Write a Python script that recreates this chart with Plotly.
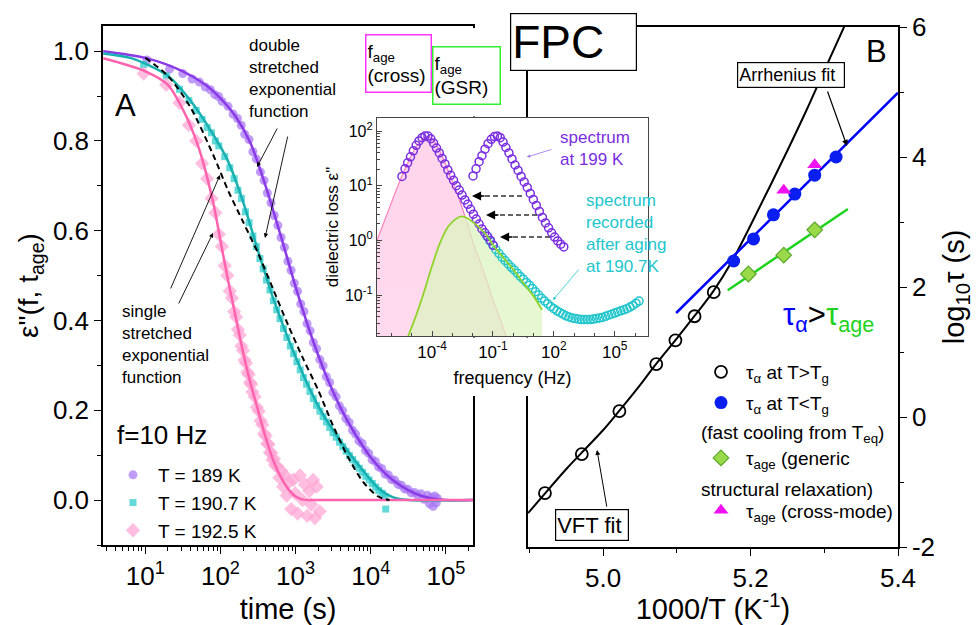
import plotly.graph_objects as go

W, H = 976, 625
FONT = "Liberation Sans, Arial, sans-serif"


def px(x):
    return x / W


def py(y):
    return 1 - y / H


# ---------------- Panel A : normalized loss vs aging time ----------------
t_189 = [10.5, 21, 31.5, 42, 52.5, 63, 73.5, 84, 94.5, 105, 126, 147, 168, 189, 210, 240, 270, 300, 340, 380,
         420, 470, 520, 580, 640, 710, 790, 870, 960, 1060, 1170, 1290, 1420, 1560, 1720, 1900, 2100, 2320, 2560, 2830,
         3130, 3460, 3820, 4220, 4660, 5150, 5690, 6290, 6950, 7680, 8490, 9380, 10400, 11500, 12700, 14000, 15500,
         17100, 18900, 20900, 23100, 25500, 28200, 31200, 34500, 38100, 42100, 46500, 51400, 56800,
         60500, 64000, 67500, 71000, 74500, 77000]
v_189 = [0.980, 0.960, 0.950, 0.938, 0.931, 0.920, 0.914, 0.903, 0.899, 0.888,
         0.877, 0.860, 0.850, 0.835, 0.815, 0.803, 0.776, 0.760, 0.731, 0.712,
         0.684, 0.662, 0.634, 0.612, 0.585, 0.563, 0.532, 0.512, 0.483, 0.465,
         0.437, 0.420, 0.393, 0.377, 0.351, 0.337, 0.313, 0.299, 0.275, 0.262,
         0.240, 0.230, 0.210, 0.199, 0.182, 0.173, 0.156, 0.147, 0.132, 0.126,
         0.111, 0.104, 0.090, 0.086, 0.074, 0.070, 0.058, 0.056, 0.046, 0.044,
         0.035, 0.033, 0.025, 0.024, 0.016, 0.017, 0.010, 0.014, 0.002, 0.011,
         -0.008, 0.006, -0.014, 0.009, -0.006, 0.004]

t_1907 = [9.5, 19, 28.5, 38, 47.5, 57, 66.5, 76, 85.5, 95, 114, 133, 152, 171, 190, 215, 240, 270, 300, 335,
          370, 410, 455, 505, 560, 620, 690, 765, 850, 940, 1040, 1150, 1270, 1400, 1550, 1720, 1900, 2100, 2320, 2570,
          2840, 3140, 3470, 3840, 4250, 4700, 5200, 5750, 6350, 7020, 7760, 8580, 9490, 10500, 11600, 12800, 14200,
          15500, 15800]
v_1907 = [0.970, 0.945, 0.915, 0.890, 0.868, 0.848, 0.830, 0.818, 0.800, 0.789,
          0.765, 0.740, 0.716, 0.690, 0.672, 0.642, 0.618, 0.588, 0.565, 0.538,
          0.515, 0.490, 0.468, 0.444, 0.424, 0.404, 0.382, 0.362, 0.343, 0.326,
          0.308, 0.290, 0.273, 0.258, 0.242, 0.226, 0.211, 0.198, 0.186, 0.174,
          0.162, 0.150, 0.140, 0.129, 0.119, 0.109, 0.099, 0.090, 0.080, 0.071,
          0.062, 0.053, 0.045, 0.037, 0.029, 0.021, 0.015, 0.008, -0.020]

t_1925 = [9.5, 19, 28.5, 38, 47.5, 57, 66.5, 76, 85.5, 95, 104.5, 114, 123.5, 133, 142.5, 152, 161.5, 171, 180.5, 190,
          199.5, 209, 218.5, 228, 237.5, 247, 256.5, 266, 285, 304, 323, 342, 361, 380, 399, 418, 437, 456,
          475, 494, 513, 532, 570, 608, 646, 684, 722, 760, 817, 874, 931, 988, 1064, 1140, 1235, 1330, 1425, 1520,
          1615, 1710, 1805, 1900, 2090]
v_1925 = [0.950, 0.925, 0.885, 0.835, 0.800, 0.750, 0.716, 0.672, 0.640, 0.592,
          0.565, 0.522, 0.500, 0.466, 0.450, 0.420, 0.408, 0.380, 0.368, 0.343,
          0.333, 0.312, 0.305, 0.285, 0.280, 0.262, 0.258, 0.241,
          0.230, 0.207, 0.198, 0.177, 0.168, 0.148, 0.143, 0.126, 0.124, 0.106,
          0.105, 0.090, 0.092, 0.078, 0.075, 0.050, 0.065, 0.030, 0.055, 0.010,
          0.040, -0.020, 0.045, 0.015, -0.030, 0.055, 0.000, 0.035, -0.035, 0.020,
          -0.010, 0.045, -0.040, 0.030, -0.025]

# fitted curves (log10 time, value)
fit189_logt = [0.44, 1.0, 1.5, 1.8, 2.0, 2.2, 2.4, 2.6, 2.8, 3.0, 3.2, 3.4, 3.6, 3.8, 4.0, 4.2, 4.4, 4.6, 4.8, 5.0, 5.36]
fit189_v = [1.0, 0.985, 0.955, 0.925, 0.895, 0.855, 0.795, 0.70, 0.59, 0.475, 0.37, 0.28, 0.205, 0.145, 0.095, 0.058,
            0.032, 0.014, 0.004, 0.0, 0.0]
fit1907_logt = [0.44, 0.8, 1.0, 1.3, 1.6, 1.9, 2.1, 2.3, 2.5, 2.7, 2.9, 3.1, 3.3, 3.5, 3.7, 3.9, 4.1, 4.3, 4.5, 5.36]
fit1907_v = [0.995, 0.985, 0.972, 0.945, 0.89, 0.815, 0.755, 0.665, 0.555, 0.45, 0.36, 0.28, 0.21, 0.155, 0.108,
             0.065, 0.027, 0.006, 0.0, 0.0]
fit1925_logt = [0.44, 1.0, 1.3, 1.5, 1.7, 1.9, 2.0, 2.1, 2.2, 2.3, 2.4, 2.5, 2.6, 2.7, 2.8, 2.9, 3.0, 3.1, 3.3, 5.36]
fit1925_v = [0.984, 0.955, 0.925, 0.87, 0.79, 0.665, 0.578, 0.49, 0.41, 0.33, 0.26, 0.20, 0.14, 0.09, 0.052, 0.025,
             0.008, 0.001, 0.0, 0.0]
sse_logt = [1.0, 1.3, 1.6, 1.9, 2.1, 2.3, 2.5, 2.7, 2.9, 3.1, 3.3, 3.5, 3.7, 3.9, 4.1, 4.25]
sse_v = [0.985, 0.945, 0.875, 0.77, 0.69, 0.62, 0.55, 0.47, 0.39, 0.315, 0.245, 0.165, 0.095, 0.04, 0.008, 0.0]

# ---------------- Panel B : relaxation map ----------------
invT_above_tg = [4.921, 4.971, 5.022, 5.072, 5.098, 5.124, 5.150]
logtau_above_tg = [-1.17, -0.57, 0.09, 0.815, 1.18, 1.55, 1.92]
vft_invT = [4.898, 4.92, 4.95, 4.97, 5.00, 5.02, 5.05, 5.07, 5.10, 5.125, 5.15, 5.175, 5.20, 5.225, 5.25, 5.275,
            5.30, 5.33]
vft_logtau = [-1.48, -1.19, -0.80, -0.56, -0.20, 0.07, 0.49, 0.79, 1.21, 1.57, 1.945, 2.40, 2.95, 3.52, 4.10, 4.70,
              5.33, 6.08]
invT_below_tg = [5.177, 5.204, 5.231, 5.260, 5.287, 5.316]
logtau_below_tg = [2.40, 2.74, 3.11, 3.43, 3.72, 4.00]
arr_invT = [5.099, 5.40]
arr_logtau = [1.60, 4.99]
invT_age_gsr = [5.197, 5.245, 5.287]
logtau_age_gsr = [2.20, 2.49, 2.88]
gsr_fit_invT = [5.169, 5.332]
gsr_fit_logtau = [1.95, 3.20]
invT_age_cross = [5.245, 5.287]
logtau_age_cross = [3.49, 3.88]

# ---------------- Inset : loss spectra (log10 f, log10 eps'') ----------------
shifted199_logf = [-5.48, -5.33, -5.20, -5.06, -4.92, -4.78, -4.64, -4.49, -4.35, -4.20,
                   -4.06, -3.92, -3.78, -3.64, -3.50, -3.36, -3.22, -3.08, -2.94, -2.80,
                   -2.66, -2.52, -2.38, -2.24, -2.10, -1.96, -1.82, -1.68, -1.54, -1.40,
                   -1.26, -1.12, -0.98]
shifted199_logeps = [1.17, 1.31, 1.42, 1.53, 1.64, 1.74, 1.82, 1.88, 1.91, 1.91,
                     1.86, 1.78, 1.69, 1.60, 1.50, 1.40, 1.29, 1.19, 1.10, 1.00,
                     0.92, 0.83, 0.74, 0.66, 0.57, 0.48, 0.39, 0.30, 0.21, 0.14,
                     0.07, 0.0, -0.09]
spec199_logf = [-1.98, -1.83, -1.68, -1.54, -1.39, -1.24, -1.08, -0.93, -0.78, -0.64,
                -0.50, -0.36, -0.21, -0.06, 0.09, 0.24, 0.39, 0.54, 0.69, 0.84,
                0.99, 1.14, 1.29, 1.44, 1.59, 1.74, 1.89, 2.04, 2.19, 2.34, 2.49]
spec199_logeps = [1.18, 1.31, 1.44, 1.55, 1.67, 1.77, 1.85, 1.90, 1.91, 1.88,
                  1.80, 1.70, 1.60, 1.49, 1.38, 1.28, 1.17, 1.07, 0.97, 0.86,
                  0.75, 0.64, 0.53, 0.42, 0.32, 0.23, 0.14, 0.06, -0.01, -0.07, -0.12]
aged_logf = [-1.3, -1.15, -1.0, -0.85, -0.7, -0.55, -0.4, -0.25, -0.1, 0.05,
             0.2, 0.35, 0.5, 0.65, 0.8, 0.95, 1.1, 1.25, 1.4, 1.55,
             1.7, 1.85, 2.0, 2.15, 2.3, 2.45, 2.6, 2.75, 2.9, 3.05,
             3.2, 3.35, 3.5, 3.65, 3.8, 3.95, 4.1, 4.25, 4.4, 4.55,
             4.7, 4.85, 5.0, 5.15, 5.3, 5.45, 5.6, 5.75, 5.9, 6.05, 6.2]
aged_logeps = [0.08, -0.01, -0.09, -0.17, -0.24, -0.31, -0.37, -0.43, -0.49, -0.54,
               -0.60, -0.66, -0.71, -0.77, -0.82, -0.88, -0.94, -1.00, -1.06, -1.11,
               -1.16, -1.21, -1.25, -1.29, -1.32, -1.35, -1.38, -1.40, -1.42, -1.43,
               -1.44, -1.45, -1.45, -1.45, -1.45, -1.44, -1.43, -1.42, -1.41, -1.39,
               -1.37, -1.35, -1.33, -1.31, -1.29, -1.27, -1.25, -1.22, -1.19, -1.15, -1.11]
cross_fit_logf = [-6.71, -6.3, -6.0, -5.7, -5.4, -5.1, -4.8, -4.5, -4.25, -4.0, -3.7, -3.4, -3.1, -2.8, -2.5, -2.2,
                  -1.9, -1.6, -1.3, -1.0, -0.7, -0.35]
cross_fit_logeps = [0.0, 0.40, 0.69, 0.98, 1.25, 1.49, 1.70, 1.84, 1.90, 1.86, 1.70, 1.46, 1.17, 0.90, 0.58, 0.23,
                    -0.12, -0.42, -0.74, -1.08, -1.38, -1.75]
gsr_fit_logf = [-5.17, -4.74, -4.44, -4.0, -3.61, -3.21, -2.87, -2.57, -2.23, -1.78, -1.39, -1.0, -0.5, 0.0, 0.5,
                1.0, 1.42]
gsr_fit_logeps = [-1.75, -1.33, -1.0, -0.47, -0.05, 0.25, 0.38, 0.44, 0.40, 0.27, 0.13, -0.08, -0.31, -0.53, -0.78,
                  -1.02, -1.27]
F_AGE_CROSS_LOG = -4.30
F_AGE_GSR_LOG = -3.26

a_ticks_x = [1e1, 1e2, 1e3, 1e4, 1e5]
a_ticktext_x = ["10<sup>1</sup>", "10<sup>2</sup>", "10<sup>3</sup>", "10<sup>4</sup>", "10<sup>5</sup>"]
in_ticks_x = [1e-4, 1e-1, 1e2, 1e5]
in_ticktext_x = ["10<sup>-4</sup>", "10<sup>-1</sup>", "10<sup>2</sup>", "10<sup>5</sup>"]
in_ticks_y = [0.1, 1, 10, 100]
in_ticktext_y = ["10<sup>-1</sup>", "10<sup>0</sup>", "10<sup>1</sup>", "10<sup>2</sup>"]
b_ticks_y = [-2, 0, 2, 4, 6]
b_ticktext_y = ["-2", "0", "2", "4", "6"]


def p10(vals):
    return [10 ** v for v in vals]


PURPLE_M = "rgba(168,118,245,0.72)"
PURPLE_L = "#8a3be6"
CYAN_M = "rgba(45,205,205,0.75)"
CYAN_L = "#18b0b0"
PINK_M = "rgba(255,165,212,0.72)"
PINK_L = "#ff63ad"

fig = go.Figure()

# Panel A markers
fig.add_trace(go.Scatter(x=t_189, y=v_189, mode="markers", name="T = 189 K",
                         marker=dict(symbol="circle", size=9, color=PURPLE_M, line=dict(width=0)),
                         xaxis="x", yaxis="y", legend="legend"))
fig.add_trace(go.Scatter(x=t_1907, y=v_1907, mode="markers", name="T = 190.7 K",
                         marker=dict(symbol="square", size=7, color=CYAN_M, line=dict(width=0)),
                         xaxis="x", yaxis="y", legend="legend"))
fig.add_trace(go.Scatter(x=t_1925, y=v_1925, mode="markers", name="T = 192.5 K",
                         marker=dict(symbol="diamond", size=11, color=PINK_M, line=dict(width=0)),
                         xaxis="x", yaxis="y", legend="legend"))
# Panel A fits
for lt, vv, col, dash in [(fit189_logt, fit189_v, PURPLE_L, "solid"),
                          (fit1907_logt, fit1907_v, CYAN_L, "solid"),
                          (fit1925_logt, fit1925_v, PINK_L, "solid"),
                          (sse_logt, sse_v, "black", "6px,4px")]:
    fig.add_trace(go.Scatter(x=p10(lt), y=vv, mode="lines", line=dict(color=col, width=2.5 if dash == "solid" else 2,
                                                                     dash=dash, shape="spline", smoothing=0.8),
                             showlegend=False, xaxis="x", yaxis="y", hoverinfo="skip"))

# Panel B
fig.add_trace(go.Scatter(x=vft_invT, y=vft_logtau, mode="lines", line=dict(color="black", width=2, shape="spline"),
                         showlegend=False, xaxis="x2", yaxis="y2"))
fig.add_trace(go.Scatter(x=arr_invT, y=arr_logtau, mode="lines", line=dict(color="#0000ff", width=2.5),
                         showlegend=False, xaxis="x2", yaxis="y2"))
fig.add_trace(go.Scatter(x=gsr_fit_invT, y=gsr_fit_logtau, mode="lines", line=dict(color="#1ed21e", width=2.5),
                         showlegend=False, xaxis="x2", yaxis="y2"))
fig.add_trace(go.Scatter(x=invT_above_tg, y=logtau_above_tg, mode="markers",
                         name="τ<sub>α</sub> at T&gt;T<sub>g</sub>", legendgroup="g1",
                         marker=dict(symbol="circle-open", size=12, color="black", line=dict(width=1.8)),
                         xaxis="x2", yaxis="y2", legend="legend2"))
fig.add_trace(go.Scatter(x=invT_below_tg, y=logtau_below_tg, mode="markers",
                         name="τ<sub>α</sub> at T&lt;T<sub>g</sub><br> ", legendgroup="g2",
                         marker=dict(symbol="circle", size=13, color="#0a1ef0"),
                         xaxis="x2", yaxis="y2", legend="legend2"))
fig.add_trace(go.Scatter(x=invT_age_gsr, y=logtau_age_gsr, mode="markers",
                         name="τ<sub>age</sub> (generic<br> ", legendgroup="g3",
                         marker=dict(symbol="diamond", size=12, color="#9ad94a", line=dict(color="#5aa82a", width=1.2)),
                         xaxis="x2", yaxis="y2", legend="legend2"))
fig.add_trace(go.Scatter(x=invT_age_cross, y=logtau_age_cross, mode="markers",
                         name="τ<sub>age</sub> (cross-mode)", legendgroup="g3",
                         marker=dict(symbol="triangle-up", size=13, color="#f010f0"),
                         xaxis="x2", yaxis="y2", legend="legend2"))

# Inset
fig.add_trace(go.Scatter(x=p10(cross_fit_logf), y=p10(cross_fit_logeps), mode="lines", fill="tozeroy",
                         line=dict(color="#ff80bc", width=1.2, shape="spline"),
                         fillgradient=dict(type="vertical",
                                           colorscale=[[0, "rgba(255,248,252,0.4)"], [1, "rgba(255,190,224,0.65)"]]),
                         showlegend=False, xaxis="x3", yaxis="y3"))
fig.add_trace(go.Scatter(x=p10(gsr_fit_logf), y=p10(gsr_fit_logeps), mode="lines", fill="tozeroy",
                         line=dict(color="rgba(0,0,0,0)", width=0, shape="spline"),
                         fillgradient=dict(type="vertical",
                                           colorscale=[[0, "rgba(246,252,240,0.45)"], [1, "rgba(220,244,192,0.75)"]]),
                         showlegend=False, xaxis="x3", yaxis="y3"))
fig.add_trace(go.Scatter(x=p10(aged_logf), y=p10(aged_logeps), mode="markers",
                         marker=dict(symbol="circle-open", size=8, color="#22c6cc", line=dict(width=1.5)),
                         showlegend=False, xaxis="x3", yaxis="y3"))
fig.add_trace(go.Scatter(x=p10(shifted199_logf), y=p10(shifted199_logeps), mode="markers",
                         marker=dict(symbol="circle-open", size=8, color="#7a2ee0", line=dict(width=1.5)),
                         showlegend=False, xaxis="x3", yaxis="y3"))
fig.add_trace(go.Scatter(x=p10(spec199_logf), y=p10(spec199_logeps), mode="markers",
                         marker=dict(symbol="circle-open", size=8, color="#7a2ee0", line=dict(width=1.5)),
                         showlegend=False, xaxis="x3", yaxis="y3"))
fig.add_trace(go.Scatter(x=p10(gsr_fit_logf), y=p10(gsr_fit_logeps), mode="lines",
                         line=dict(color="#8fd42a", width=1.8, shape="spline"),
                         showlegend=False, xaxis="x3", yaxis="y3"))


def minor_log(lo, hi):
    out = []
    for k in range(lo, hi):
        for m in range(2, 10):
            out.append(m * 10.0 ** k)
    return out


axis_common = dict(showline=True, linecolor="black", linewidth=1.5, showgrid=False, zeroline=False,
                   automargin=False, ticks="outside", tickcolor="black", tickwidth=1.3, ticklen=7,
                   tickfont=dict(family=FONT, size=26, color="black"))

fig.update_layout(
    template="none",
    width=W, height=H, margin=dict(l=0, r=0, t=0, b=0, pad=0, autoexpand=False),
    paper_bgcolor="white", plot_bgcolor="white",
    font=dict(family=FONT, color="black"),
    xaxis=dict(axis_common, domain=[px(103), px(473)], type="log", range=[0.437, 5.36], anchor="y", mirror=True,
               tickmode="array", tickvals=a_ticks_x, ticktext=a_ticktext_x,
               minor=dict(ticks="outside", ticklen=4, tickwidth=1, tickcolor="black", tickvals=minor_log(0, 6)),
               title=dict(text="time (s)", font=dict(size=29), standoff=10)),
    yaxis=dict(axis_common, domain=[py(545), py(26)], range=[-0.1, 1.056], anchor="x", mirror=True,
               tick0=0, dtick=0.2, tickformat=".1f",
               minor=dict(ticks="outside", ticklen=4, tickwidth=1, tickcolor="black", dtick=0.1),
               title=dict(text="ε\"(f, t<sub>age</sub>)", font=dict(size=28), standoff=6)),
    xaxis2=dict(axis_common, domain=[px(528), px(898)], range=[4.898, 5.4], anchor="y2", mirror=True,
                tick0=5.0, dtick=0.2, tickformat=".1f",
                minor=dict(ticks="outside", ticklen=4, tickwidth=1, tickcolor="black", dtick=0.1, tick0=4.9),
                title=dict(text="1000/T (K<sup>-1</sup>)", font=dict(size=29), standoff=8)),
    yaxis2=dict(axis_common, domain=[py(547), py(27)], range=[-2, 6], anchor="x2", side="right", mirror=True,
                tickmode="array", tickvals=b_ticks_y, ticktext=b_ticktext_y,
                minor=dict(ticks="outside", ticklen=4, tickwidth=1, tickcolor="black", tickvals=[-1, 1, 3, 5]),
                title=dict(text="log<sub>10</sub>τ (s)", font=dict(size=29), standoff=10)),
    xaxis3=dict(showline=True, linecolor="#444", linewidth=1.2, mirror=True, showgrid=False, zeroline=False,
                automargin=False,
                domain=[px(377), px(648)], type="log", range=[-6.71, 6.64], anchor="y3",
                tickmode="array", tickvals=in_ticks_x, ticktext=in_ticktext_x, ticks="inside", ticklen=5,
                tickcolor="#444", tickfont=dict(size=17, color="black"),
                minor=dict(ticks="inside", ticklen=3, tickcolor="#444",
                           tickvals=[10.0 ** k for k in range(-6, 7)]),
                title=dict(text="frequency (Hz)", font=dict(size=18), standoff=10)),
    yaxis3=dict(showline=True, linecolor="#444", linewidth=1.2, mirror=True, showgrid=False, zeroline=False,
                automargin=False,
                domain=[py(336), py(118)], type="log", range=[-1.75, 2.24], anchor="x3",
                tickmode="array", tickvals=in_ticks_y, ticktext=in_ticktext_y, ticks="inside", ticklen=5,
                tickcolor="#444", tickfont=dict(size=16, color="black"),
                minor=dict(ticks="inside", ticklen=3, tickcolor="#444", tickvals=minor_log(-2, 3)),
                title=dict(text="dielectric loss ε\"", font=dict(size=17), standoff=2)),
    legend=dict(x=px(108), y=py(456), xanchor="left", yanchor="top", bgcolor="rgba(0,0,0,0)", borderwidth=0,
                font=dict(size=19, family=FONT, color="black"), itemwidth=40),
    legend2=dict(x=px(696), y=py(353), xanchor="left", yanchor="top", bgcolor="rgba(0,0,0,0)", borderwidth=0,
                 font=dict(size=19, family=FONT, color="black"), valign="top", itemwidth=40, tracegroupgap=3),
)

shapes = []
# white strips hiding frame segments outside the inset box
shapes.append(dict(type="rect", xref="paper", yref="paper", x0=px(467), x1=px(479), y0=py(116.5), y1=py(28),
                   fillcolor="white", line=dict(width=0), layer="above"))
shapes.append(dict(type="rect", xref="paper", yref="paper", x0=px(467), x1=px(479), y0=py(396), y1=py(337.5),
                   fillcolor="white", line=dict(width=0), layer="above"))
shapes.append(dict(type="rect", xref="paper", yref="paper", x0=px(522), x1=px(534), y0=py(396), y1=py(337.5),
                   fillcolor="white", line=dict(width=0), layer="above"))
# f_age dashed markers
shapes.append(dict(type="line", xref="x3", yref="paper", x0=F_AGE_CROSS_LOG, x1=F_AGE_CROSS_LOG,
                   y0=py(336), y1=py(91), line=dict(color="#ff00ff", width=4, dash="9px,5px"), layer="above"))
shapes.append(dict(type="line", xref="x3", yref="paper", x0=F_AGE_GSR_LOG, x1=F_AGE_GSR_LOG,
                   y0=py(336), y1=py(102), line=dict(color="#1ed21e", width=4, dash="9px,5px"), layer="above"))
# dashed shift arrows
for (x0, x1, yy) in [(522, 474, 196), (537, 488, 215), (550, 502, 237)]:
    shapes.append(dict(type="line", xref="paper", yref="paper", x0=px(x0), x1=px(x1), y0=py(yy), y1=py(yy),
                       line=dict(color="#333", width=1.3, dash="5px,3px"), layer="above"))
fig.update_layout(shapes=shapes)

ann = []


def text(x, y, s, size=17, color="black", xanchor="left", yanchor="middle", **kw):
    ann.append(dict(x=px(x), y=py(y), xref="paper", yref="paper", text=s, showarrow=False,
                    font=dict(size=size, color=color, family=FONT), xanchor=xanchor, yanchor=yanchor,
                    align="left", **kw))


def arrow(hx, hy, tx, ty, color="black", width=0.9, head=2, size=1.0):
    ann.append(dict(x=px(hx), y=py(hy), xref="paper", yref="paper", ax=tx - hx, ay=ty - hy, text="",
                    showarrow=True, arrowhead=head, arrowsize=size, arrowwidth=width, arrowcolor=color))


text(247, 34, "double<br>stretched<br>exponential<br>function", yanchor="top")
text(120, 300, "single<br>stretched<br>exponential<br>function", yanchor="top")
arrow(257, 167, 278, 127)
arrow(265, 238, 288, 135)
arrow(220, 175, 170, 290)
arrow(213, 233, 178, 305)
text(113, 105, "A", size=31)
text(115, 435, "f=10 Hz", size=26)

text(573, 42, "FPC", size=46, xanchor="center", bgcolor="white", bordercolor="black", borderwidth=1.2,
     width=123, height=54)
text(791, 75, "Arrhenius fit", size=18, xanchor="center", bgcolor="white", bordercolor="black", borderwidth=1.2,
     width=104, height=22)
text(592, 525, "VFT fit", size=22, xanchor="center", bgcolor="white", bordercolor="black", borderwidth=1.2,
     width=70, height=28)
arrow(847, 146, 827, 90, width=1.2)
arrow(597, 450, 607, 508, width=1.0)
text(864, 51, "B", size=31)
text(781, 317, "<span style='color:#0000ff'>τ<sub>α</sub></span>&gt;<span style='color:#1ed21e'>τ<sub>age</sub></span>",
     size=31)
text(699, 434, "(fast cooling from T<sub>eq</sub>)", size=19)
text(699, 489, "structural relaxation)", size=19)

text(398, 63, "f<sub>age</sub><br>(cross)", size=19, xanchor="center", bgcolor="white", bordercolor="#ff33ff",
     borderwidth=1.5, width=62, height=54)
text(466, 75, "f<sub>age</sub><br>(GSR)", size=19, xanchor="center", bgcolor="white", bordercolor="#33ee33",
     borderwidth=1.5, width=64, height=54)
text(558, 148, "spectrum<br>at 199 K", size=17, color="#7a2ee0")
text(584, 233, "spectrum<br>recorded<br>after aging<br>at 190.7K", size=17, color="#22c6cc")
arrow(527, 157, 553, 149, color="#9a6ae8", width=0.8, size=0.8)
arrow(553, 300, 580, 268, color="#22c6cc", width=0.8, size=0.8)
for (x1, yy) in [(472, 196), (486, 215), (500, 237)]:
    arrow(x1, yy, x1 + 14, yy, color="black", width=1.3, size=1.4)

fig.update_layout(annotations=ann)

fig.write_html("out.html", config={"displayModeBar": False})
